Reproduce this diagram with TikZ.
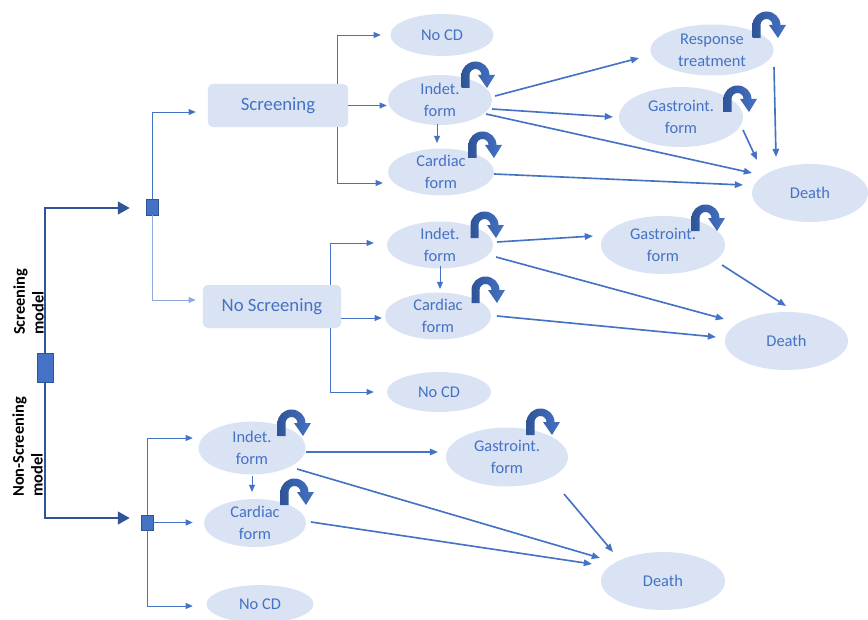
\documentclass[tikz,border=0pt]{standalone}
\usepackage{fontspec}
\setmainfont{Carlito}
\usetikzlibrary{shapes.geometric,arrows.meta,calc}
\definecolor{ellfill}{HTML}{DAE3F3}
\definecolor{txtblue}{HTML}{4472C4}
\definecolor{lineblue}{HTML}{4472C4}
\definecolor{darkblue}{HTML}{2F5597}
\definecolor{lightline}{HTML}{8FAADC}
\begin{document}
\begin{tikzpicture}[x=0.03cm,y=-0.03cm,
  ell/.style={ellipse, fill=ellfill, text=txtblue, inner sep=0pt, align=center, font=\fontsize{14}{18.5}\selectfont},
  box/.style={rectangle, rounded corners=4pt, fill=ellfill, text=txtblue, inner sep=0pt, font=\fontsize{16}{19}\selectfont},
  sq/.style={rectangle, fill=lineblue, draw=darkblue, line width=0.6pt, inner sep=0pt},
  mainln/.style={draw=darkblue, line width=1pt, -{Triangle[length=10pt,width=11pt]}},
  tree/.style={draw=lineblue, line width=0.8pt, -{Triangle[length=6pt,width=5pt]}},
  arr/.style={draw=lineblue, line width=1.4pt, -{Triangle[length=7pt,width=5.5pt]}},
  lbl/.style={rotate=90, anchor=south west, align=left, inner sep=0pt, font=\fontsize{14}{16}\selectfont\bfseries},
  loopicon/.pic={
    \shade[left color=darkblue, right color=lineblue]
      (0.5,28) -- (0.5,15) arc[start angle=180, end angle=360, x radius=14, y radius=13.5]
      -- (34,15) -- (26,28) -- (17,15) -- (20.5,15)
      arc[start angle=0, end angle=-180, x radius=6, y radius=6] -- (8.5,28) -- cycle;
  }
]
\useasboundingbox (0,0) rectangle (868,620);

% boxes
\node[box, minimum width=4.2cm, minimum height=1.29cm] (scr) at (278,105.5) {Screening};
\node[box, minimum width=4.14cm, minimum height=1.29cm] (nscr) at (272,306.5) {No Screening};

% screening branch ellipses
\node[ell, minimum width=3.09cm, minimum height=1.26cm] (sNoCD) at (442,35) {No CD};
\node[ell, minimum width=3.12cm, minimum height=1.5cm] (sInd) at (440,100) {Indet.\\form};
\node[ell, minimum width=3.18cm, minimum height=1.35cm] (sCar) at (441,172) {Cardiac\\form};
\node[ell, minimum width=3.69cm, minimum height=1.53cm] (sResp) at (712,50) {Response\\treatment};
\node[ell, minimum width=3.72cm, minimum height=1.8cm] (sGas) at (681,117) {Gastroint.\\form};
\node[ell, minimum width=3.48cm, minimum height=1.74cm] (sDeath) at (810,193) {Death};

% no screening branch ellipses
\node[ell, minimum width=3.18cm, minimum height=1.38cm] (nInd) at (440,245) {Indet.\\form};
\node[ell, minimum width=3.18cm, minimum height=1.32cm] (nCar) at (438,316) {Cardiac\\form};
\node[ell, minimum width=3.12cm, minimum height=1.2cm] (nNoCD) at (439,392) {No CD};
\node[ell, minimum width=3.72cm, minimum height=1.74cm] (nGas) at (663,245) {Gastroint.\\form};
\node[ell, minimum width=3.69cm, minimum height=1.74cm] (nDeath) at (786.5,341) {Death};

% non-screening model ellipses
\node[ell, minimum width=3.21cm, minimum height=1.59cm] (bInd) at (252,448) {Indet.\\form};
\node[ell, minimum width=3.06cm, minimum height=1.44cm] (bCar) at (255,523) {Cardiac\\form};
\node[ell, minimum width=3.21cm, minimum height=1.14cm] (bNoCD) at (260,604) {No CD};
\node[ell, minimum width=3.66cm, minimum height=1.77cm] (bGas) at (507,457) {Gastroint.\\form};
\node[ell, minimum width=3.72cm, minimum height=1.74cm] (bDeath) at (663,581) {Death};

% left tree
\node[sq, minimum width=0.48cm, minimum height=0.87cm] (main) at (45,367.5) {};
\node[sq, minimum width=0.36cm, minimum height=0.48cm] (sq1) at (152,207) {};
\node[sq, minimum width=0.36cm, minimum height=0.45cm] (sq2) at (147,522.5) {};

\node[lbl, text=black] (lblS) at (44,335) {Screening\\model};
\node[lbl, text=black] (lblN) at (43,497) {Non-Screening\\model};

\draw[mainln] (main.north) |- ($(sq1.west)+(-16,1)$);
\draw[mainln] (main.south) |- ($(sq2.west)+(-11,-4.5)$);

\draw[tree] (sq1.north) |- ($(scr.west)+(-12,6.5)$);
\draw[tree, draw=lightline] (sq1.south) |- ($(nscr.west)+(-7,-6.5)$);

\draw[tree] ($(scr.north)+(59,0)$) |- ($(sNoCD.west)+(-9.5,0)$);
\draw[tree] ($(scr.south)+(59,0)$) |- ($(sCar.west)+(-5,11)$);
\draw[tree] (scr.east) -- ($(sInd.west)+(-1,5.5)$);

\draw[tree] ($(nscr.north)+(58,0)$) |- ($(nInd.west)+(-13,-2)$);
\draw[tree] ($(nscr.south)+(58,0)$) |- ($(nNoCD.west)+(-13,0)$);
\draw[tree] ($(nscr.east)+(0,11.5)$) -- ($(nCar.west)+(-3,2)$);

\draw[tree] (sq2.north) |- ($(bInd.west)+(-5.5,-10)$);
\draw[tree, line width=1.5pt] (sq2.east) -- ($(bCar.west)+(-11,-0.5)$);
\draw[tree] (sq2.south) |- ($(bNoCD.west)+(-13.5,2)$);

% down arrows
\draw[tree] ($(sInd)+(-3,24)$) -- ($(sCar)+(-4,-29)$);
\draw[tree] ($(nInd)+(0,21)$) -- ($(nCar)+(2,-27)$);
\draw[tree] ($(bInd)+(0,28)$) -- ($(bCar)+(-3,-31)$);

% top transitions
\draw[arr] ($(sInd)+(55,-4)$) -- ($(sResp)+(-73,8)$);
\draw[arr] ($(sInd)+(52,9)$) -- ($(sGas)+(-68,0)$);
\draw[arr] ($(sInd)+(46,14)$) -- ($(sDeath)+(-58,-20)$);
\draw[arr] ($(sCar)+(53,2)$) -- ($(sDeath)+(-67,-8)$);
\draw[arr] ($(sGas)+(62,13)$) -- ($(sDeath)+(-53,-33)$);
\draw[arr] ($(sResp)+(62,17)$) -- ($(sDeath)+(-34,-36)$);

% middle transitions
\draw[arr] ($(nInd)+(57,-3)$) -- ($(nGas)+(-70,-9)$);
\draw[arr] ($(nInd)+(56,12)$) -- ($(nDeath)+(-62.5,-22)$);
\draw[arr] ($(nCar)+(59,0)$) -- ($(nDeath)+(-70.5,-4)$);
\draw[arr] ($(nGas)+(59,20)$) -- ($(nDeath)+(-0.5,-35)$);

% bottom transitions
\draw[arr] ($(bInd)+(54,4)$) -- ($(bGas)+(-69,-5)$);
\draw[arr] ($(bInd)+(45,21)$) -- ($(bDeath)+(-63,-23)$);
\draw[arr] ($(bCar)+(56,-1)$) -- ($(bDeath)+(-71,-17)$);
\draw[arr] ($(bGas)+(57,37)$) -- ($(bDeath)+(-50,-29)$);

% self-loop icons
\pic at (461,60) {loopicon};
\pic at (468,130) {loopicon};
\pic at (752,10) {loopicon};
\pic at (723,84) {loopicon};
\pic at (470,210) {loopicon};
\pic at (471,275) {loopicon};
\pic at (691,203) {loopicon};
\pic at (277,408) {loopicon};
\pic at (280,477) {loopicon};
\pic at (526,407) {loopicon};
\end{tikzpicture}
\end{document}
